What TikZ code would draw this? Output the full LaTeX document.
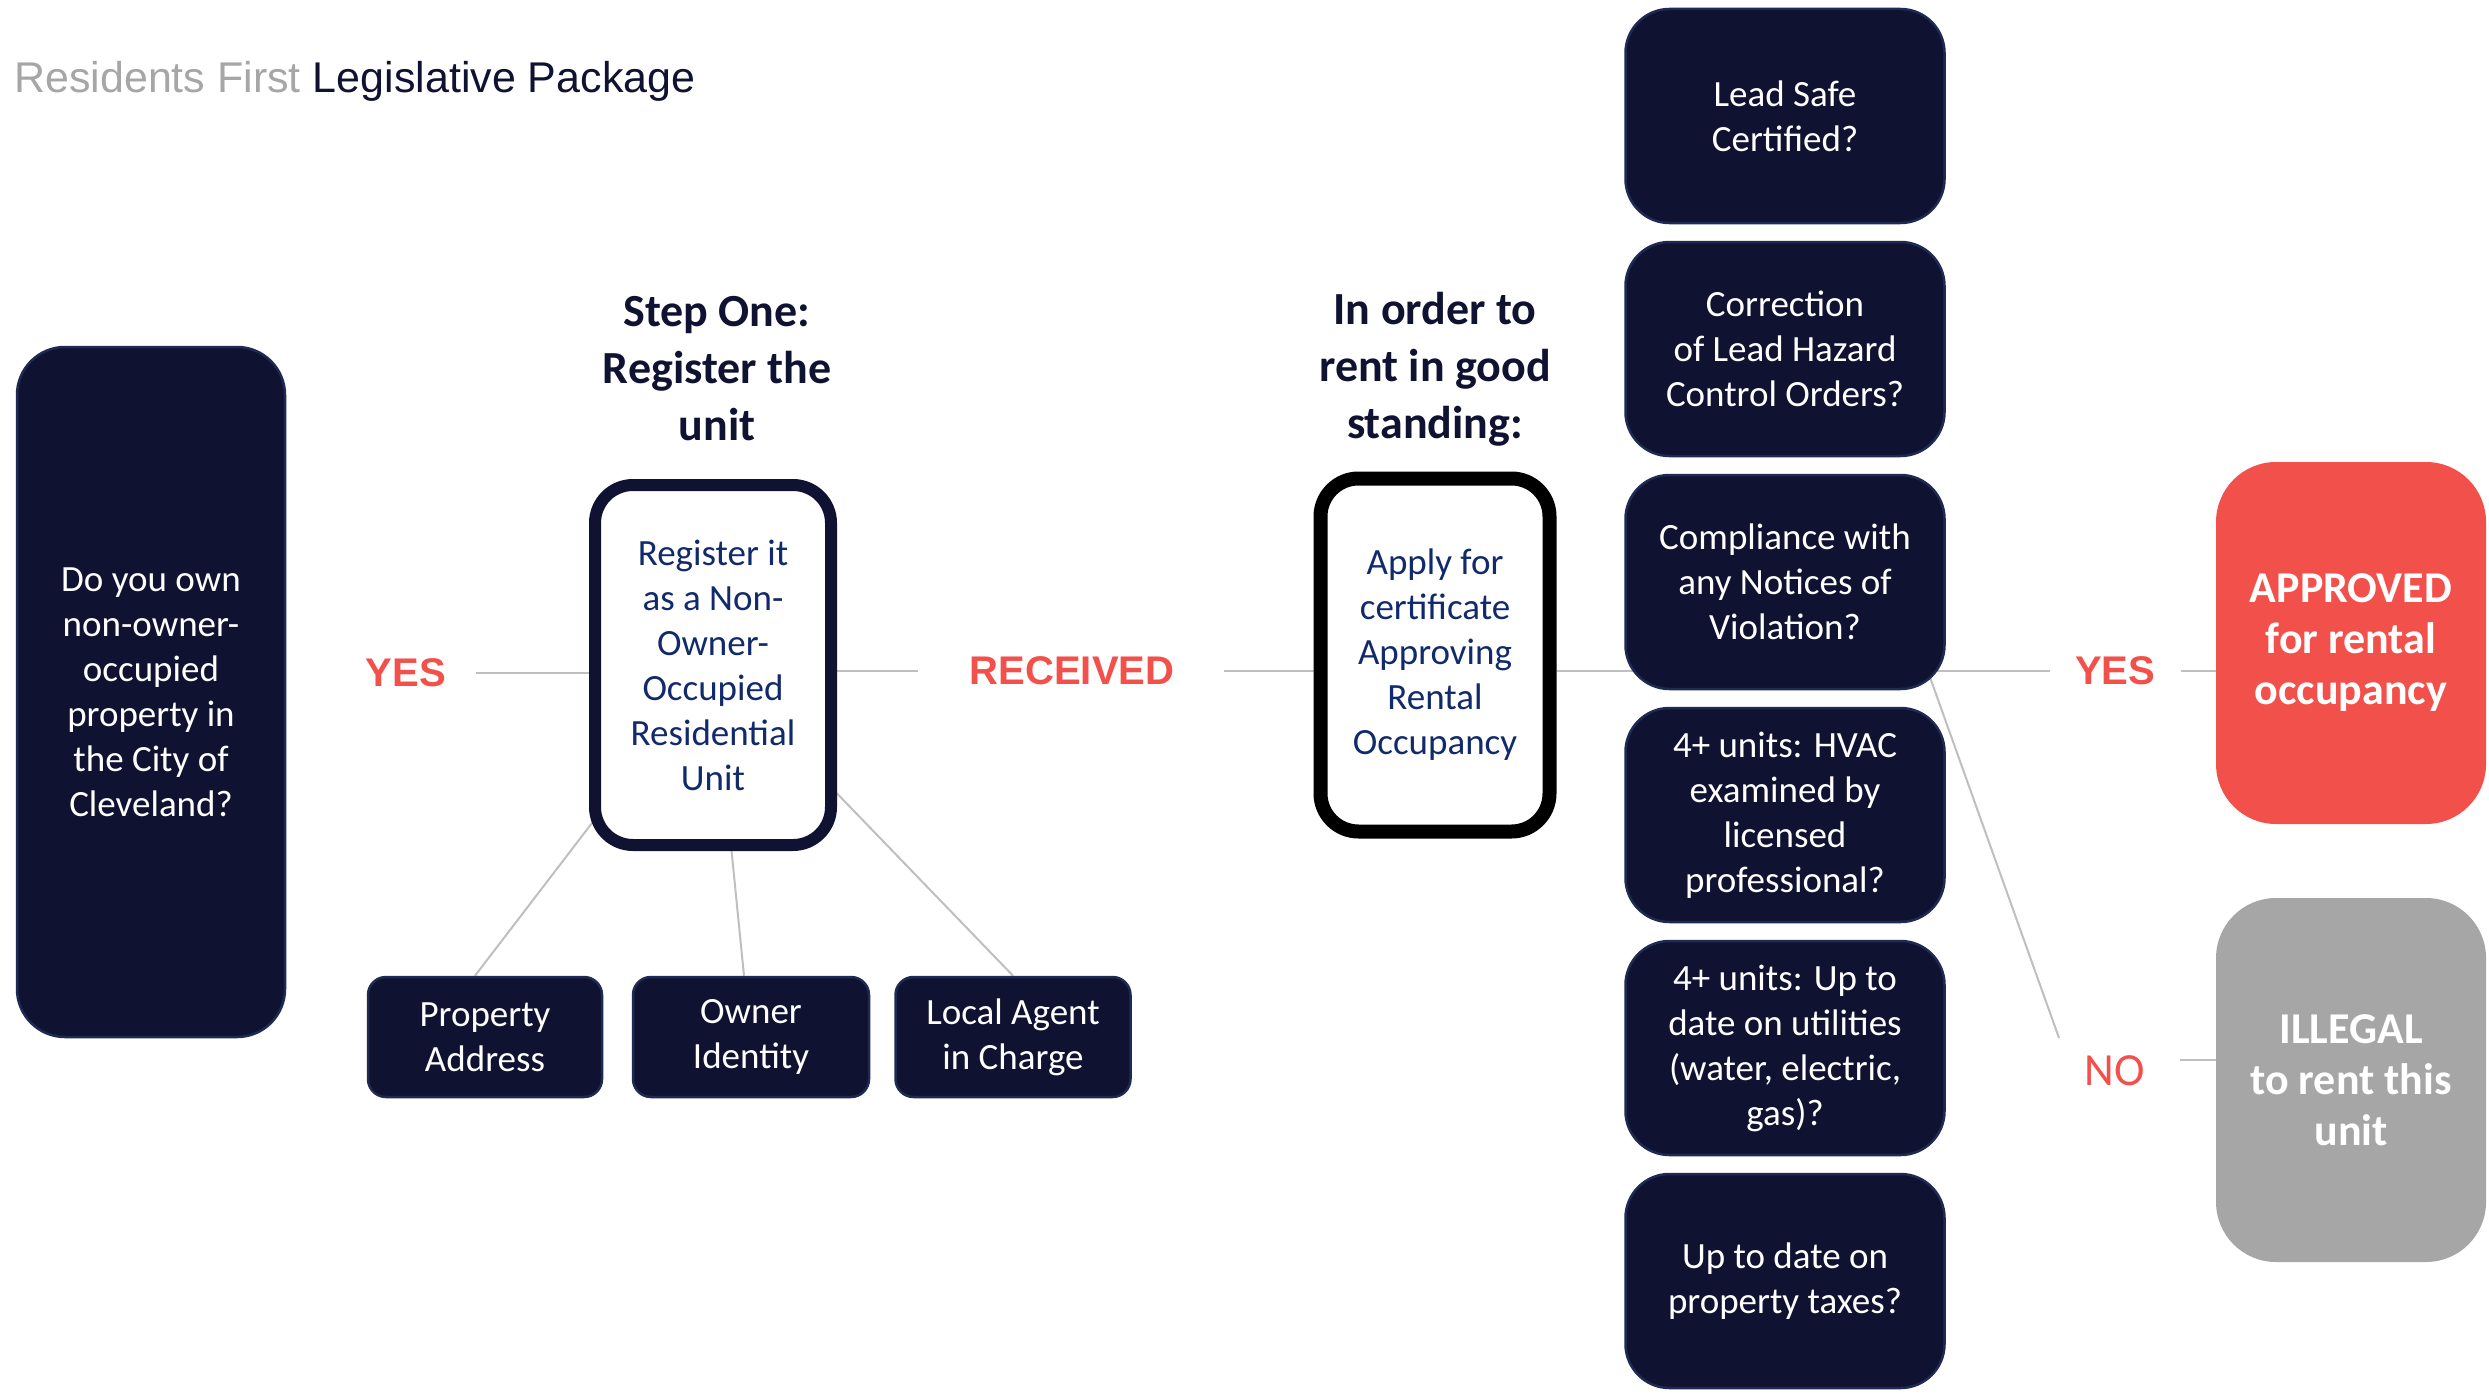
\documentclass[tikz,border=0pt]{standalone}
\usepackage{fontspec}
\setmainfont{Carlito}
\newfontfamily\arialfont{Liberation Sans}
\usetikzlibrary{backgrounds}

\definecolor{navy}{HTML}{0F1331}
\definecolor{navyedge}{HTML}{1E2A52}
\definecolor{inkblue}{HTML}{112A6B}
\definecolor{alertred}{HTML}{F2504B}
\definecolor{greybox}{HTML}{A6A6A6}
\definecolor{linkgrey}{HTML}{BFBFBF}

\newcommand\boxtext{\fontsize{37}{45}\selectfont}
\newcommand\headtext{\bfseries\fontsize{46}{57}\selectfont}
\newcommand\tagtext{\arialfont\bfseries\fontsize{40}{48}\selectfont}
\newcommand\verdicttext{\bfseries\fontsize{44}{51}\selectfont}

\tikzset{
  darkbox/.style={draw=navyedge, line width=2.5pt, fill=navy, text=white,
    rounded corners=44pt, align=center, inner sep=0pt, font=\boxtext,
    execute at begin node={\rule{0pt}{31pt}}},
  openbox/.style={fill=white, text=inkblue, rounded corners=38pt,
    align=center, inner sep=0pt, font=\boxtext,
    execute at begin node={\rule{0pt}{30pt}}},
  verdict/.style={rounded corners=60pt, text=white, align=center,
    inner sep=0pt, font=\verdicttext,
    execute at begin node={\rule{0pt}{36pt}}},
  tag/.style={text=alertred, inner sep=0pt, font=\tagtext},
  heading/.style={text=navy, align=center, inner sep=0pt, font=\headtext},
  link/.style={draw=linkgrey, line width=2pt},
}

\begin{document}
\begin{tikzpicture}[x=1pt,y=1pt]
\useasboundingbox (0,0) rectangle (2489,-1394);

% title
\node [anchor=base west, inner sep=0pt, font=\arialfont\fontsize{43}{50}\selectfont]
  (title) at (14,-93) {\textcolor{greybox}{Residents First} \textcolor{navy}{Legislative Package}};

% question and registration
\node [darkbox, rounded corners=48pt, minimum width=268pt, minimum height=690pt]
  (ask) at (151,-692) {Do you own\\non-owner-\\occupied\\property in\\the City of\\Cleveland?};
\node [tag] (yes1) at (406,-673) {YES};
\node [heading] (stepone) at (717,-369) {Step One:\\Register the\\unit};
\node [openbox, draw=navy, line width=12pt, minimum width=236pt, minimum height=360pt]
  (reg) at (713,-665) {Register it\\as a Non-\\Owner-\\Occupied\\Residential\\Unit};
\node [darkbox, rounded corners=18pt, minimum width=234pt, minimum height=120pt]
  (addr) at (485,-1037) {Property\\Address};
\node [darkbox, rounded corners=18pt, minimum width=236pt, minimum height=120pt]
  (owner) at (751,-1037) {Owner\\Identity};
\node [darkbox, rounded corners=18pt, minimum width=235pt, minimum height=120pt]
  (agent) at (1013,-1037) {Local Agent\\in Charge};

% certificate
\node [tag] (received) at (1072,-671) {RECEIVED};
\node [heading] (standing) at (1435,-369) {In order to\\rent in good\\standing:};
\node [openbox, draw=black, line width=14pt, minimum width=229pt, minimum height=353pt]
  (apply) at (1435,-655) {Apply for\\certificate\\Approving\\Rental\\Occupancy};

% checks
\node [darkbox, minimum width=319pt, minimum height=214pt] (lead)    at (1785,-116)  {Lead Safe\\Certified?};
\node [darkbox, minimum width=319pt, minimum height=214pt] (hazard)  at (1785,-349)  {Correction\\of Lead Hazard\\Control Orders?};
\node [darkbox, minimum width=319pt, minimum height=214pt] (comply)  at (1785,-582)  {Compliance with\\any Notices of\\Violation?};
\node [darkbox, minimum width=319pt, minimum height=214pt] (hvac)    at (1785,-815)  {4+ units: HVAC\\examined by\\licensed\\professional?};
\node [darkbox, minimum width=319pt, minimum height=214pt] (utility) at (1785,-1048) {4+ units: Up to\\date on utilities\\(water, electric,\\gas)?};
\node [darkbox, minimum width=319pt, minimum height=214pt] (taxes)   at (1785,-1281) {Up to date on\\property taxes?};

% outcomes
\node [tag] (yes2) at (2115,-671) {YES};
\node [tag, font=\fontsize{46}{50}\selectfont] (no) at (2115,-1071) {NO};
\node [verdict, fill=alertred, minimum width=270pt, minimum height=362pt]
  (approved) at (2351,-643) {APPROVED\\for rental\\occupancy};
\node [verdict, fill=greybox, minimum width=270pt, minimum height=364pt]
  (illegal) at (2351,-1080) {ILLEGAL\\to rent this\\unit};

\coordinate (nojoin) at (2059,-1038);
\coordinate (noline) at ([yshift=11pt]no.east);

\begin{scope}[on background layer]
\draw[link] ([xshift=30pt]yes1.east) -- (reg.west |- yes1.east);
\draw[link] (reg.center) -- ([xshift=-10pt]addr.north);
\draw[link] (reg.center) -- ([xshift=-7pt]owner.north);
\draw[link] (reg.center) -- (agent.north);
\draw[link] (reg.east |- received.west) -- ([xshift=-52pt]received.west);
\draw[link] ([xshift=50pt]received.east) -- (apply.west |- received.east);
\draw[link] (apply.east |- yes2.west) -- ([xshift=-25pt]yes2.west);
\draw[link] ([xshift=26pt]yes2.east) -- (approved.west |- yes2.east);
\draw[link] ([xshift=-18pt]comply.east |- yes2.west) -- (nojoin);
\draw[link] ([xshift=35pt]noline) -- (noline -| illegal.west);
\end{scope}
\end{tikzpicture}
\end{document}
